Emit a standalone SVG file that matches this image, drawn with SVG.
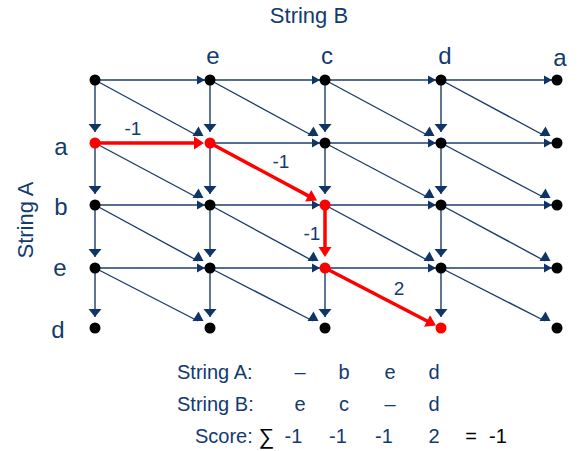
<svg xmlns="http://www.w3.org/2000/svg" width="579" height="451" viewBox="0 0 579 451">
<style>
.t{font-family:"Liberation Sans",Arial,sans-serif;fill:#133A6E}
.lbl{font-size:24px;text-anchor:middle}
.ttl{font-size:22px;text-anchor:middle}
.el{font-size:19px;text-anchor:middle}
.bt{font-size:20px}
.bc{font-size:20px;text-anchor:middle}
.k{fill:#000}
.sg{font-size:22px}
.e{stroke:#1B3C6B;stroke-width:1.4;fill:none}
.h{marker-end:url(#aH)}
.v{marker-end:url(#aV)}
.d{marker-end:url(#aD)}
.r{stroke:#FF0000;stroke-width:3.5;fill:none;marker-end:url(#aR)}
.n{fill:#000}
.nr{fill:#FF0000}
</style>
<defs>
<marker id="aH" markerUnits="userSpaceOnUse" orient="auto" refX="8" refY="0" markerWidth="10" markerHeight="10" overflow="visible"><path d="M0,-4.5 L8,0 L0,4.5 z" fill="#0F3566"/></marker>
<marker id="aV" markerUnits="userSpaceOnUse" orient="auto" refX="8" refY="0" markerWidth="10" markerHeight="14" overflow="visible"><path d="M0,-6.5 L8,0 L0,6.5 z" fill="#0F3566"/></marker>
<marker id="aD" markerUnits="userSpaceOnUse" orient="-90" refX="0" refY="0" markerWidth="12" markerHeight="12" overflow="visible"><path d="M0,-5.5 L9.5,0.5 L0,5.5 z" fill="#0F3566"/></marker>
<marker id="aR" markerUnits="userSpaceOnUse" orient="auto" refX="6" refY="0" markerWidth="12" markerHeight="14" overflow="visible"><path d="M0,-6.5 L10,0 L0,6.5 z" fill="#FF0000"/></marker>
</defs>

<g id="titles">
<text class="t ttl" x="309" y="23">String B</text>
<text class="t ttl" transform="translate(33,220) rotate(-90)">String A</text>
<text class="t lbl" x="213" y="64">e</text>
<text class="t lbl" x="327" y="64">c</text>
<text class="t lbl" x="445" y="64">d</text>
<text class="t lbl" x="560" y="66">a</text>
<text class="t lbl" x="61" y="155">a</text>
<text class="t lbl" x="61" y="215">b</text>
<text class="t lbl" x="60" y="276">e</text>
<text class="t lbl" x="58" y="338">d</text>
</g>

<g id="connectors">
<line class="e h" x1="95" y1="80" x2="205" y2="80"/>
<line class="e h" x1="210" y1="80" x2="320" y2="80"/>
<line class="e h" x1="325" y1="80" x2="436" y2="80"/>
<line class="e h" x1="441" y1="80" x2="552" y2="80"/>
<line class="e h" x1="210" y1="143" x2="320" y2="143"/>
<line class="e h" x1="325" y1="143" x2="436" y2="143"/>
<line class="e h" x1="441" y1="143" x2="552" y2="143"/>
<line class="e h" x1="95" y1="205" x2="205" y2="205"/>
<line class="e h" x1="210" y1="205" x2="320" y2="205"/>
<line class="e h" x1="325" y1="205" x2="436" y2="205"/>
<line class="e h" x1="441" y1="205" x2="552" y2="205"/>
<line class="e h" x1="95" y1="268" x2="205" y2="268"/>
<line class="e h" x1="210" y1="268" x2="320" y2="268"/>
<line class="e h" x1="325" y1="268" x2="436" y2="268"/>
<line class="e h" x1="441" y1="268" x2="552" y2="268"/>
<line class="e v" x1="95" y1="80" x2="95" y2="132"/>
<line class="e v" x1="95" y1="143" x2="95" y2="194"/>
<line class="e v" x1="95" y1="205" x2="95" y2="257"/>
<line class="e v" x1="95" y1="268" x2="95" y2="317"/>
<line class="e v" x1="210" y1="80" x2="210" y2="132"/>
<line class="e v" x1="210" y1="143" x2="210" y2="194"/>
<line class="e v" x1="210" y1="205" x2="210" y2="257"/>
<line class="e v" x1="210" y1="268" x2="210" y2="317"/>
<line class="e v" x1="325" y1="80" x2="325" y2="132"/>
<line class="e v" x1="325" y1="143" x2="325" y2="194"/>
<line class="e v" x1="325" y1="268" x2="325" y2="317"/>
<line class="e v" x1="441" y1="80" x2="441" y2="132"/>
<line class="e v" x1="441" y1="143" x2="441" y2="194"/>
<line class="e v" x1="441" y1="205" x2="441" y2="257"/>
<line class="e v" x1="441" y1="268" x2="441" y2="317"/>
<line class="e d" x1="95" y1="80" x2="198" y2="136"/>
<line class="e d" x1="210" y1="80" x2="313" y2="136"/>
<line class="e d" x1="325" y1="80" x2="429" y2="136"/>
<line class="e d" x1="441" y1="80" x2="545" y2="136"/>
<line class="e d" x1="95" y1="143" x2="198" y2="198"/>
<line class="e d" x1="325" y1="143" x2="429" y2="198"/>
<line class="e d" x1="441" y1="143" x2="545" y2="198"/>
<line class="e d" x1="95" y1="205" x2="198" y2="261"/>
<line class="e d" x1="210" y1="205" x2="313" y2="261"/>
<line class="e d" x1="325" y1="205" x2="429" y2="261"/>
<line class="e d" x1="441" y1="205" x2="545" y2="261"/>
<line class="e d" x1="95" y1="268" x2="198" y2="321"/>
<line class="e d" x1="210" y1="268" x2="313" y2="321"/>
<line class="e d" x1="441" y1="268" x2="545" y2="321"/>
<line class="r" x1="95" y1="143" x2="200" y2="143"/>
<line class="r" x1="210" y1="143" x2="313.5" y2="198.6"/>
<line class="r" x1="325" y1="205" x2="325" y2="253"/>
<line class="r" x1="325" y1="268" x2="432.4" y2="323.7"/>
<text class="t el" x="133" y="135">-1</text>
<text class="t el" x="281" y="168">-1</text>
<text class="t el" x="312" y="240">-1</text>
<text class="t el" x="399" y="295">2</text>
</g>

<g id="n00"><circle class="n" cx="95" cy="80" r="5.5"/></g>
<g id="n01"><circle class="n" cx="210" cy="80" r="5.5"/></g>
<g id="n02"><circle class="n" cx="325" cy="80" r="5.5"/></g>
<g id="n03"><circle class="n" cx="441" cy="80" r="5.5"/></g>
<g id="n04"><circle class="n" cx="557" cy="80" r="5.5"/></g>
<g id="n10"><circle class="nr" cx="95" cy="143" r="5.5"/></g>
<g id="n11"><circle class="nr" cx="210" cy="143" r="5.5"/></g>
<g id="n12"><circle class="n" cx="325" cy="143" r="5.5"/></g>
<g id="n13"><circle class="n" cx="441" cy="143" r="5.5"/></g>
<g id="n14"><circle class="n" cx="557" cy="143" r="5.5"/></g>
<g id="n20"><circle class="n" cx="95" cy="205" r="5.5"/></g>
<g id="n21"><circle class="n" cx="210" cy="205" r="5.5"/></g>
<g id="n22"><circle class="nr" cx="325" cy="205" r="5.5"/></g>
<g id="n23"><circle class="n" cx="441" cy="205" r="5.5"/></g>
<g id="n24"><circle class="n" cx="557" cy="205" r="5.5"/></g>
<g id="n30"><circle class="n" cx="95" cy="268" r="5.5"/></g>
<g id="n31"><circle class="n" cx="210" cy="268" r="5.5"/></g>
<g id="n32"><circle class="nr" cx="325" cy="268" r="5.5"/></g>
<g id="n33"><circle class="n" cx="441" cy="268" r="5.5"/></g>
<g id="n34"><circle class="n" cx="557" cy="268" r="5.5"/></g>
<g id="n40"><circle class="n" cx="95" cy="328" r="5.5"/></g>
<g id="n41"><circle class="n" cx="210" cy="328" r="5.5"/></g>
<g id="n42"><circle class="n" cx="325" cy="328" r="5.5"/></g>
<g id="n43"><circle class="nr" cx="441" cy="328" r="5.5"/></g>
<g id="n44"><circle class="n" cx="557" cy="328" r="5.5"/></g>

<g id="alignment">
<text class="t bt" x="177" y="379">String A:</text>
<text class="t bc" x="300" y="379">–</text>
<text class="t bc" x="344" y="379">b</text>
<text class="t bc" x="390" y="379">e</text>
<text class="t bc" x="434" y="379">d</text>
<text class="t bt" x="177" y="411">String B:</text>
<text class="t bc" x="300" y="411">e</text>
<text class="t bc" x="344" y="411">c</text>
<text class="t bc" x="390" y="411">–</text>
<text class="t bc" x="434" y="411">d</text>
<text class="t bt" x="195" y="443">Score:</text>
<text class="t bc k sg" x="266.5" y="444">∑</text>
<text class="t bc" x="293.5" y="443">-1</text>
<text class="t bc" x="338" y="443">-1</text>
<text class="t bc" x="384" y="443">-1</text>
<text class="t bc" x="434" y="443">2</text>
<text class="t bc k" x="471" y="443">=</text>
<text class="t bc k" x="498" y="443">-1</text>
</g>
</svg>
